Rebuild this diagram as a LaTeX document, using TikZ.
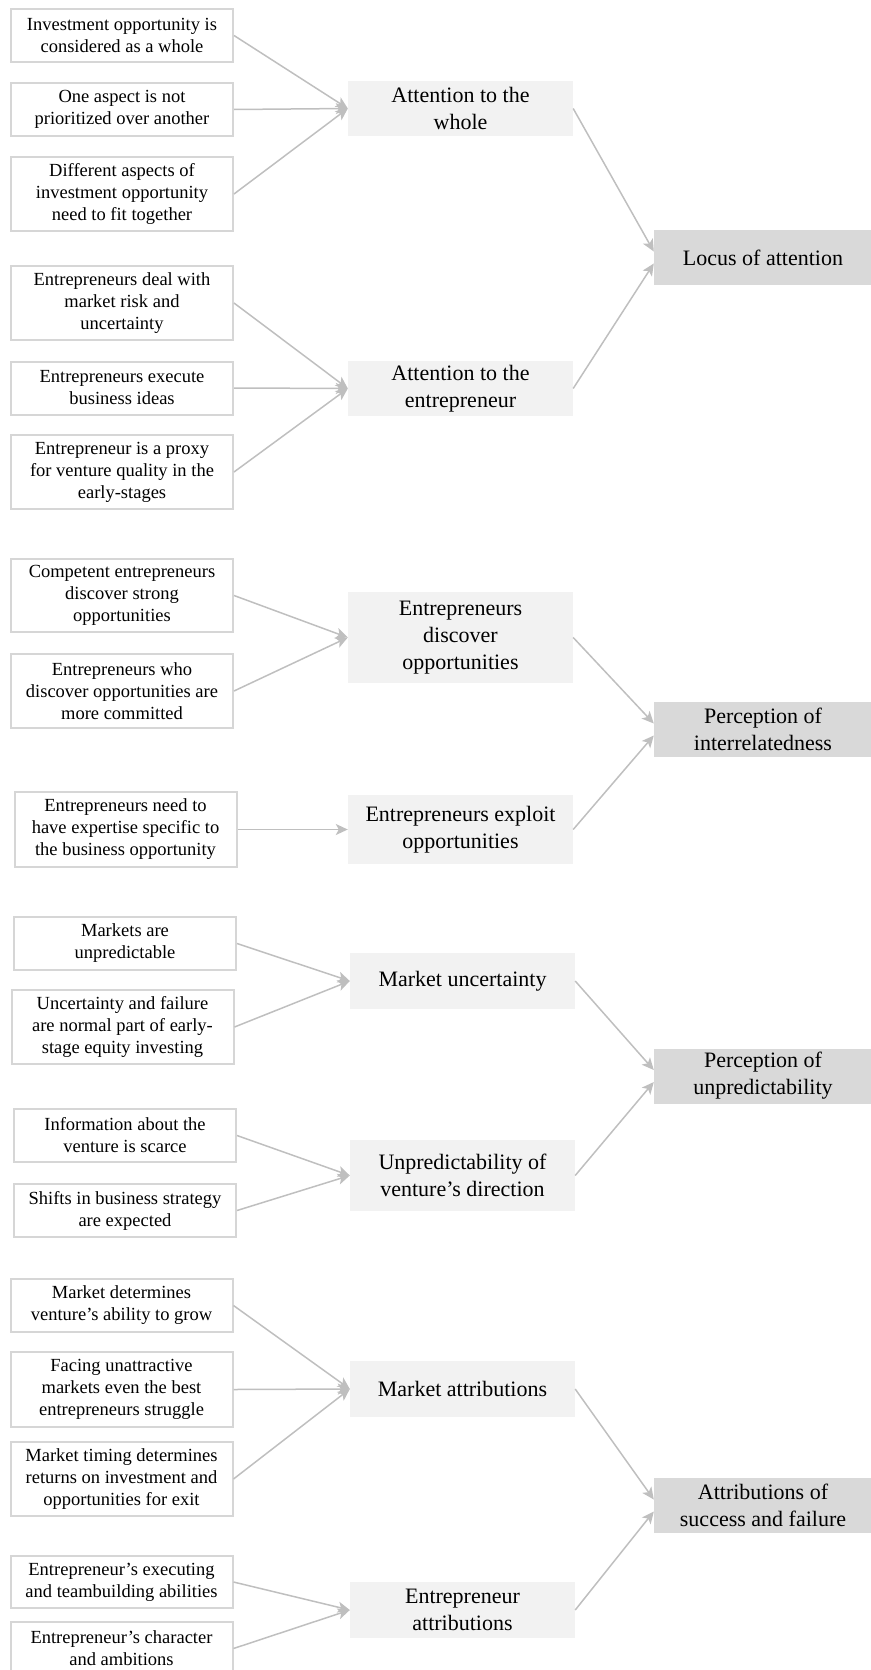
\documentclass[tikz,border=0pt]{standalone}
\usepackage{fontspec}
\setmainfont{Liberation Serif}
\usepackage{xcolor}
\usepackage{tikz}
\usetikzlibrary{arrows.meta}

\definecolor{boxline}{HTML}{D6D6D6}
\definecolor{midfill}{HTML}{F2F2F2}
\definecolor{topfill}{HTML}{D9D9D9}
\definecolor{arrowgray}{HTML}{BFBFBF}

\tikzset{
  item/.style={draw=boxline, line width=2pt, fill=white, align=center, inner sep=0pt,
    minimum width=222pt, minimum height=#1, font=\fontsize{18.5}{22}\selectfont},
  item/.default=53pt,
  theme/.style={fill=midfill, align=center, inner sep=0pt,
    minimum width=225pt, minimum height=#1, font=\fontsize{22}{27}\selectfont},
  theme/.default=55pt,
  dimension/.style={fill=topfill, align=center, inner sep=0pt,
    minimum width=218pt, minimum height=55pt, font=\fontsize{22}{27}\selectfont},
  link/.style={draw=arrowgray, line width=1.5pt,
    -{Stealth[length=12pt, width=11pt, inset=3pt]}}
}

\begin{document}
\begin{tikzpicture}[x=1pt, y=-1pt]
  \useasboundingbox (0,0) rectangle (870,1670);

  % Locus of attention
  \node[item] (l1) at (122,35.5) {Investment opportunity is\\considered as a whole};
  \node[item] (l2) at (122,109.5) {One aspect is not\\prioritized over another};
  \node[item=74pt] (l3) at (122,194) {Different aspects of\\investment opportunity\\need to fit together};
  \node[item=74pt] (l4) at (122,303) {Entrepreneurs deal with\\market risk and\\uncertainty};
  \node[item] (l5) at (122,388) {Entrepreneurs execute\\business ideas};
  \node[item=74pt] (l6) at (122,472) {Entrepreneur is a proxy\\for venture quality in the\\early-stages};
  \node[theme] (m1) at (460.5,108.5) {Attention to the\\whole};
  \node[theme] (m2) at (460.5,388.5) {Attention to the\\entrepreneur};
  \node[dimension] (r1) at (763,257.5) {Locus of attention};

  % Perception of interrelatedness
  \node[item=73pt] (l7) at (122,595.5) {Competent entrepreneurs\\discover strong\\opportunities};
  \node[item=74pt] (l8) at (122,691) {Entrepreneurs who\\discover opportunities are\\more committed};
  \node[item=75pt] (l9) at (125.5,829.5) {Entrepreneurs need to\\have expertise specific to\\the business opportunity};
  \node[theme=91pt] (m3) at (460.5,637.5) {Entrepreneurs\\discover\\opportunities};
  \node[theme=69pt] (m4) at (460.5,829.5) {Entrepreneurs exploit\\opportunities};
  \node[dimension] (r2) at (763,729.5) {Perception of\\interrelatedness};

  % Perception of unpredictability
  \node[item] (l10) at (125,943.5) {Markets are\\unpredictable};
  \node[item=74pt] (l11) at (122.5,1027) {Uncertainty and failure\\are normal part of early-\\stage equity investing};
  \node[item] (l12) at (125,1135.5) {Information about the\\venture is scarce};
  \node[item] (l13) at (125,1210.5) {Shifts in business strategy\\are expected};
  \node[theme=56pt] (m5) at (462.5,981) {Market uncertainty};
  \node[theme=71pt] (m6) at (462.5,1175.5) {Unpredictability of\\venture’s direction};
  \node[dimension] (r3) at (763,1076) {Perception of\\unpredictability};

  % Attributions of success and failure
  \node[item] (l14) at (121.5,1305.5) {Market determines\\venture’s ability to grow};
  \node[item=75pt] (l15) at (121.5,1389.5) {Facing unattractive\\markets even the best\\entrepreneurs struggle};
  \node[item=74pt] (l16) at (121.5,1479) {Market timing determines\\returns on investment and\\opportunities for exit};
  \node[item=52pt] (l17) at (121.5,1582) {Entrepreneur’s executing\\and teambuilding abilities};
  \node[item] (l18) at (121.5,1648.5) {Entrepreneur’s character\\and ambitions};
  \node[theme=56pt] (m7) at (462.5,1389) {Market attributions};
  \node[theme=56pt] (m8) at (462.5,1610) {Entrepreneur\\attributions};
  \node[dimension] (r4) at (763,1505.5) {Attributions of\\success and failure};

  % Arrows into the themes
  \draw[link] (l1.east) -- (m1.west);
  \draw[link] (l2.east) -- (m1.west);
  \draw[link] (l3.east) -- (m1.west);
  \draw[link] (l4.east) -- (m2.west);
  \draw[link] (l5.east) -- (m2.west);
  \draw[link] (l6.east) -- (m2.west);
  \draw[link] (l7.east) -- (m3.west);
  \draw[link] (l8.east) -- (m3.west);
  \draw[link] (l9.east) -- (m4.west);
  \draw[link] (l10.east) -- (m5.west);
  \draw[link] (l11.east) -- (m5.west);
  \draw[link] (l12.east) -- (m6.west);
  \draw[link] (l13.east) -- (m6.west);
  \draw[link] (l14.east) -- (m7.west);
  \draw[link] (l15.east) -- (m7.west);
  \draw[link] (l16.east) -- (m7.west);
  \draw[link] (l17.east) -- (m8.west);
  \draw[link] (l18.east) -- (m8.west);

  % Arrows into the dimensions
  \draw[link] (m1.east) -- ([yshift=6pt]r1.west);
  \draw[link] (m2.east) -- ([yshift=-6pt]r1.west);
  \draw[link] (m3.east) -- ([yshift=6pt]r2.west);
  \draw[link] (m4.east) -- ([yshift=-6pt]r2.west);
  \draw[link] (m5.east) -- ([yshift=6pt]r3.west);
  \draw[link] (m6.east) -- ([yshift=-6pt]r3.west);
  \draw[link] (m7.east) -- ([yshift=6pt]r4.west);
  \draw[link] (m8.east) -- ([yshift=-6pt]r4.west);
\end{tikzpicture}
\end{document}
